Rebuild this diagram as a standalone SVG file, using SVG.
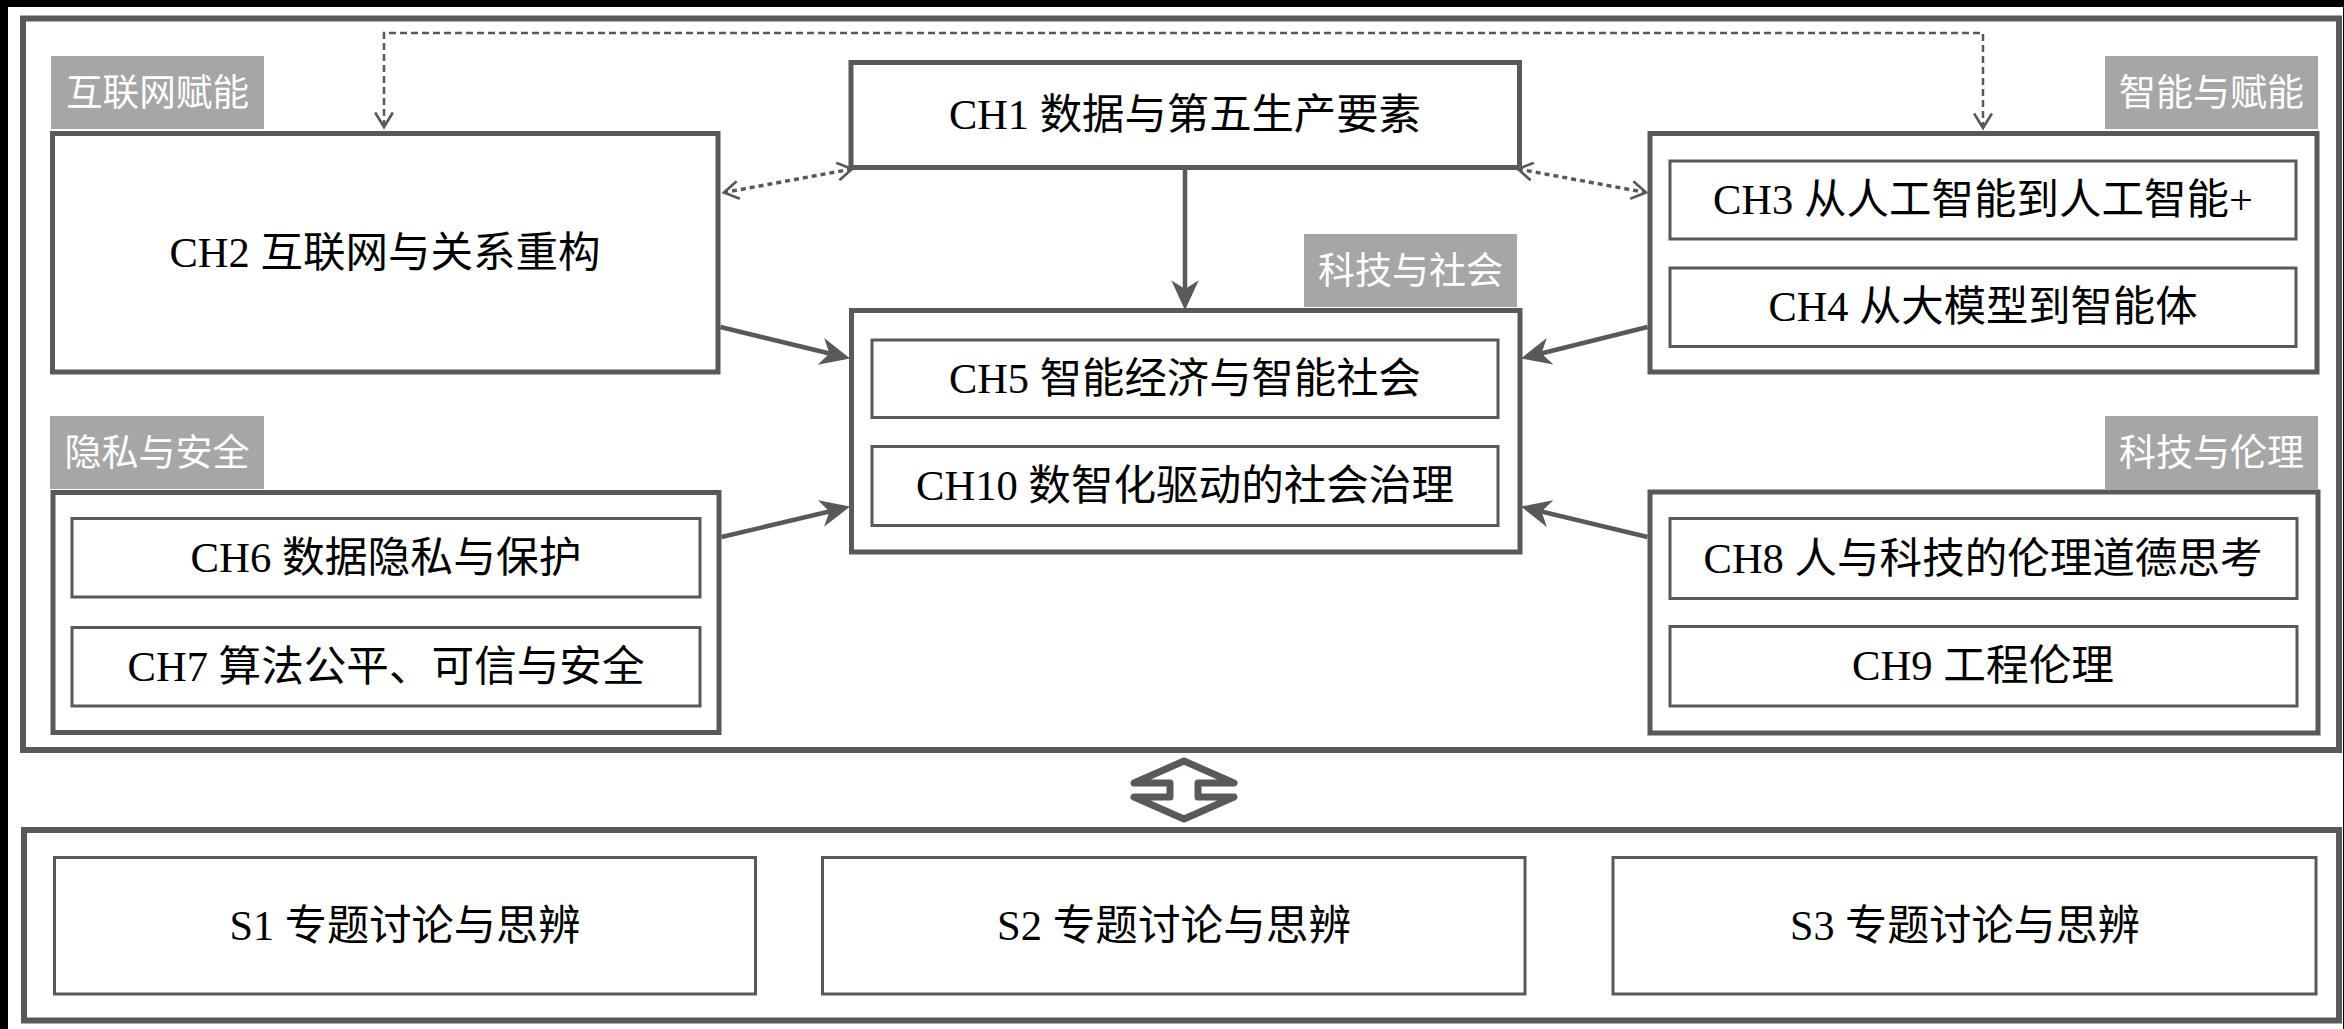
<svg xmlns="http://www.w3.org/2000/svg" width="2344" height="1029" viewBox="0 0 2344 1029">
<style>
.frame{fill:none;stroke:#595959;stroke-width:6}
.grp{fill:#fff;stroke:#595959;stroke-width:5}
.box{fill:#fff;stroke:#595959;stroke-width:3}
.lbl{fill:#a6a6a6}
.lt{font-family:"Noto Sans CJK SC","Noto Sans",sans-serif;font-size:37px;fill:#fff;text-anchor:middle}
.t{font-family:"Liberation Serif","Noto Sans CJK SC",serif;font-size:42px;fill:#000;text-anchor:middle}
.solid{fill:none;stroke:#595959;stroke-width:4.5;marker-end:url(#classic)}
.dash{fill:none;stroke:#595959;stroke-width:2.5;stroke-dasharray:7 4;marker-start:url(#open);marker-end:url(#open)}
.dash2{fill:none;stroke:#595959;stroke-width:3.5;stroke-dasharray:5 4;marker-start:url(#open);marker-end:url(#open)}
</style>
<defs>
<marker id="classic" markerUnits="userSpaceOnUse" markerWidth="30" markerHeight="30" viewBox="0 0 24 22" refX="19" refY="11" orient="auto">
<path d="M0,0 L24,11 L0,22 L7,11 z" fill="#595959"/>
</marker>
<marker id="open" markerUnits="userSpaceOnUse" markerWidth="20" markerHeight="20" viewBox="0 0 16 18" refX="14" refY="9" orient="auto-start-reverse">
<path d="M1,1 L14,9 L1,17" fill="none" stroke="#595959" stroke-width="2.4"/>
</marker>
</defs>
<rect x="0" y="0" width="2344" height="1029" fill="#000"/>
<rect x="8" y="7" width="2335" height="1022" fill="#fff"/>
<g id="panel-top"><rect class="frame" x="23" y="18.5" width="2316" height="731.5"/></g>
<g id="panel-bottom"><rect class="frame" x="24" y="830" width="2315" height="190.5"/></g>

<g id="label-internet"><rect class="lbl" x="51" y="56" width="213" height="73"/><text class="lt" x="157.5" y="106" textLength="183" lengthAdjust="spacingAndGlyphs">互联网赋能</text></g>
<g id="label-ai"><rect class="lbl" x="2105" y="56" width="213" height="73"/><text class="lt" x="2211.5" y="106" textLength="185" lengthAdjust="spacingAndGlyphs">智能与赋能</text></g>
<g id="label-society"><rect class="lbl" x="1304" y="234" width="213" height="73"/><text class="lt" x="1410.5" y="284" textLength="185" lengthAdjust="spacingAndGlyphs">科技与社会</text></g>
<g id="label-privacy"><rect class="lbl" x="50" y="416" width="214" height="73"/><text class="lt" x="157" y="466" textLength="185" lengthAdjust="spacingAndGlyphs">隐私与安全</text></g>
<g id="label-ethics"><rect class="lbl" x="2105" y="416" width="213" height="73"/><text class="lt" x="2211.5" y="466" textLength="185" lengthAdjust="spacingAndGlyphs">科技与伦理</text></g>

<g id="ch1"><rect class="grp" x="851" y="62.5" width="668.5" height="105"/><text class="t" x="1185" y="129" textLength="472" lengthAdjust="spacingAndGlyphs">CH1 数据与第五生产要素</text></g>
<g id="ch2"><rect class="grp" x="52.5" y="133.5" width="665.5" height="238.5"/><text class="t" x="385" y="267" textLength="431" lengthAdjust="spacingAndGlyphs">CH2 互联网与关系重构</text></g>

<g id="group-ai"><rect class="grp" x="1650" y="133.5" width="667" height="238.5"/></g>
<g id="ch3"><rect class="box" x="1670" y="161" width="626" height="78"/><text class="t" x="1983" y="214" textLength="540" lengthAdjust="spacingAndGlyphs">CH3 从人工智能到人工智能+</text></g>
<g id="ch4"><rect class="box" x="1670" y="268" width="626" height="78.5"/><text class="t" x="1983" y="321" textLength="429" lengthAdjust="spacingAndGlyphs">CH4 从大模型到智能体</text></g>

<g id="group-society"><rect class="grp" x="851.5" y="310.5" width="668.5" height="241.5"/></g>
<g id="ch5"><rect class="box" x="872" y="340" width="626" height="77.5"/><text class="t" x="1185" y="393" textLength="472" lengthAdjust="spacingAndGlyphs">CH5 智能经济与智能社会</text></g>
<g id="ch10"><rect class="box" x="872" y="446.5" width="626" height="79"/><text class="t" x="1185" y="500" textLength="538" lengthAdjust="spacingAndGlyphs">CH10 数智化驱动的社会治理</text></g>

<g id="group-privacy"><rect class="grp" x="53" y="492.5" width="666" height="240"/></g>
<g id="ch6"><rect class="box" x="72" y="518.5" width="628" height="78.5"/><text class="t" x="386" y="572" textLength="391" lengthAdjust="spacingAndGlyphs">CH6 数据隐私与保护</text></g>
<g id="ch7"><rect class="box" x="72" y="627.5" width="628" height="78.5"/><text class="t" x="386" y="681" textLength="517" lengthAdjust="spacingAndGlyphs">CH7 算法公平、可信与安全</text></g>

<g id="group-ethics"><rect class="grp" x="1650" y="492" width="668" height="241"/></g>
<g id="ch8"><rect class="box" x="1670" y="518.5" width="627" height="80"/><text class="t" x="1983" y="572.5" textLength="559" lengthAdjust="spacingAndGlyphs">CH8 人与科技的伦理道德思考</text></g>
<g id="ch9"><rect class="box" x="1670" y="626.5" width="627" height="79.5"/><text class="t" x="1983" y="680" textLength="262" lengthAdjust="spacingAndGlyphs">CH9 工程伦理</text></g>

<g id="s1"><rect class="box" x="54.5" y="857.5" width="701" height="136.5"/><text class="t" x="405" y="940" textLength="351" lengthAdjust="spacingAndGlyphs">S1 专题讨论与思辨</text></g>
<g id="s2"><rect class="box" x="822.5" y="857.5" width="702.5" height="136.5"/><text class="t" x="1174" y="940" textLength="354" lengthAdjust="spacingAndGlyphs">S2 专题讨论与思辨</text></g>
<g id="s3"><rect class="box" x="1613" y="857.5" width="703" height="136.5"/><text class="t" x="1965" y="940" textLength="350" lengthAdjust="spacingAndGlyphs">S3 专题讨论与思辨</text></g>

<g id="connectors">
<path class="dash" d="M384,127 V33 H1983 V128"/>
<path class="dash2" d="M852,169 L724,192.5"/>
<path class="dash2" d="M1518,169 L1646,192.5"/>
<path class="solid" d="M1185,170 V304"/>
<path class="solid" d="M720.5,327 L844,357"/>
<path class="solid" d="M721.5,537 L844,508"/>
<path class="solid" d="M1647.5,327 L1527,357"/>
<path class="solid" d="M1647.5,537 L1527,508"/>
<polygon id="double-arrow" points="1184,761 1234,783 1198,783 1198,797 1234,797 1184,819 1134,797 1170,797 1170,783 1134,783" fill="#fff" stroke="#595959" stroke-width="7" stroke-linejoin="round"/>
</g>
</svg>
